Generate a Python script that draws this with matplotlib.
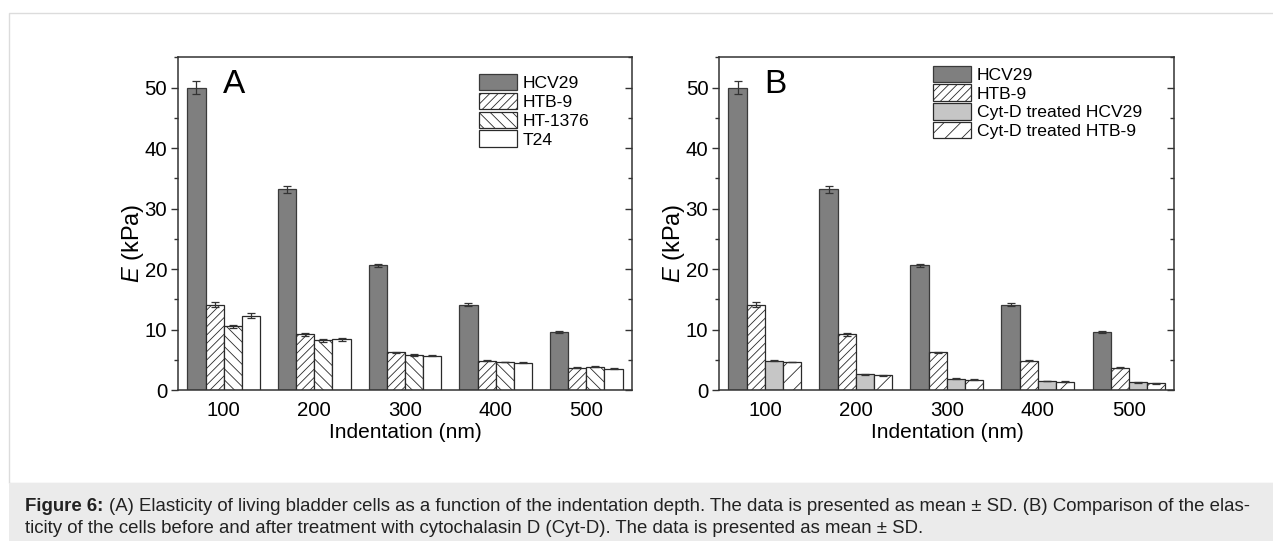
import numpy as np
import matplotlib
matplotlib.use("Agg")
import matplotlib.pyplot as plt
from matplotlib.ticker import MultipleLocator
from matplotlib.patches import Rectangle

plt.rcParams['font.family'] = ['Liberation Sans', 'DejaVu Sans']
plt.rcParams['mathtext.fontset'] = 'custom'
plt.rcParams['mathtext.it'] = 'Liberation Sans:italic'
plt.rcParams['mathtext.rm'] = 'Liberation Sans'
plt.rcParams['hatch.linewidth'] = 0.6

# ---------------- data ----------------
categories = ['100', '200', '300', '400', '500']

hcv29 = [50.0, 33.2, 20.6, 14.1, 9.6]
hcv29_sd = [1.0, 0.6, 0.3, 0.2, 0.1]
htb9 = [14.1, 9.2, 6.2, 4.8, 3.7]
htb9_sd = [0.45, 0.25, 0.1, 0.08, 0.08]
ht1376 = [10.5, 8.2, 5.8, 4.6, 3.85]
ht1376_sd = [0.3, 0.2, 0.1, 0.05, 0.05]
t24 = [12.3, 8.35, 5.7, 4.5, 3.55]
t24_sd = [0.35, 0.25, 0.12, 0.06, 0.05]
cyt_hcv29 = [4.85, 2.6, 1.9, 1.5, 1.25]
cyt_hcv29_sd = [0.1, 0.05, 0.05, 0.04, 0.04]
cyt_htb9 = [4.6, 2.4, 1.7, 1.4, 1.1]
cyt_htb9_sd = [0.05, 0.04, 0.04, 0.03, 0.03]

labels_a = ['HCV29', 'HTB-9', 'HT-1376', 'T24']
labels_b = ['HCV29', 'HTB-9', 'Cyt-D treated HCV29', 'Cyt-D treated HTB-9']

xlabel = 'Indentation (nm)'
ylabel = r'$\mathit{E}$ (kPa)'

caption_bold = 'Figure 6:'
caption_line1 = ('(A) Elasticity of living bladder cells as a function of the indentation depth. '
                 'The data is presented as mean \u00b1 SD. (B) Comparison of the elas-')
caption_line2 = ('ticity of the cells before and after treatment with cytochalasin D (Cyt-D). '
                 'The data is presented as mean \u00b1 SD.')

# ---------------- figure ----------------
W, H = 1273, 541
fig = plt.figure(figsize=(W / 100, H / 100), dpi=100)

# outer light border and caption box
fig.patches.append(Rectangle((9 / W, (541 - 483) / H), 1.2, (483 - 13) / H,
                             transform=fig.transFigure, fill=False,
                             edgecolor='#dcdcdc', lw=1.0))
fig.patches.append(Rectangle((9 / W, 0), 1.2, (541 - 483) / H,
                             transform=fig.transFigure, facecolor='#ebebeb',
                             edgecolor='none'))

ax_bottom = (541 - 390) / H
ax_h = (390 - 57.3) / H
axA = fig.add_axes([178.3 / W, ax_bottom, 453.4 / W, ax_h])
axB = fig.add_axes([719.4 / W, ax_bottom, 455 / W, ax_h])

x = np.arange(len(categories))
bw = 0.2
dark = '#7f7f7f'
light = '#c6c6c6'
edge_dark = '#3a3a3a'
spine_c = '#333333'

styles_a = [
    dict(color=dark, edgecolor=edge_dark, hatch=None),
    dict(color='white', edgecolor='#2a2a2a', hatch='////'),
    dict(color='white', edgecolor='#2a2a2a', hatch='\\\\\\'),
    dict(color='white', edgecolor='#2a2a2a', hatch=None),
]
styles_b = [
    dict(color=dark, edgecolor=edge_dark, hatch=None),
    dict(color='white', edgecolor='#2a2a2a', hatch='////'),
    dict(color=light, edgecolor='#2a2a2a', hatch=None),
    dict(color='white', edgecolor='#2a2a2a', hatch='//'),
]

def draw_panel(ax, series, sds, labels, styles, letter, leg_xy):
    n = len(series)
    offsets = (np.arange(n) - (n - 1) / 2) * bw
    handles = []
    for vals, sd, lab, st, off in zip(series, sds, labels, styles, offsets):
        b = ax.bar(x + off, vals, bw, color=st['color'], edgecolor=st['edgecolor'],
                   hatch=st['hatch'], linewidth=0.9, label=lab, zorder=2)
        handles.append(b)
        ax.errorbar(x + off, vals, yerr=sd, fmt='none', ecolor='#333333',
                    elinewidth=0.9, capsize=3.2, capthick=0.9, zorder=3)
    ax.set_xlim(-0.5, 4.5)
    ax.set_ylim(0, 55)
    ax.set_xticks(x)
    ax.set_xticklabels(categories)
    ax.tick_params(axis='x', length=0, pad=8, labelsize=14.7)
    ax.yaxis.set_major_locator(MultipleLocator(10))
    ax.yaxis.set_minor_locator(MultipleLocator(5))
    ax.tick_params(axis='y', which='major', direction='out', length=5, width=1,
                   color=spine_c, labelsize=14.7, pad=3, right=False)
    ax.tick_params(axis='y', which='minor', direction='out', length=3, width=1,
                   color=spine_c, right=False)
    for s in ax.spines.values():
        s.set_color(spine_c)
        s.set_linewidth(1.1)
    ax.set_xlabel(xlabel, fontsize=15, labelpad=2)
    ax.set_ylabel(ylabel, fontsize=17)
    ax.yaxis.set_label_coords(-0.072, 0.44)
    # right side inward ticks
    ax2 = ax.twinx()
    ax2.set_ylim(0, 55)
    ax2.yaxis.set_major_locator(MultipleLocator(10))
    ax2.yaxis.set_minor_locator(MultipleLocator(5))
    ax2.tick_params(axis='y', which='major', direction='in', length=5, width=1,
                    color=spine_c, labelright=False)
    ax2.tick_params(axis='y', which='minor', direction='in', length=3, width=1,
                    color=spine_c, labelright=False)
    for s in ax2.spines.values():
        s.set_visible(False)
    ax.text(0.099, 0.893, letter, transform=ax.transAxes, fontsize=24,
            va='baseline', ha='left')
    ax.legend(handles=handles, loc='upper left', bbox_to_anchor=leg_xy,
              frameon=False, fontsize=12.6, borderpad=0, borderaxespad=0,
              handlelength=2.2, handleheight=1.05, handletextpad=0.3,
              labelspacing=0.1)

draw_panel(axA, [hcv29, htb9, ht1376, t24], [hcv29_sd, htb9_sd, ht1376_sd, t24_sd],
           labels_a, styles_a, 'A', (0.663, 0.95))
draw_panel(axB, [hcv29, htb9, cyt_hcv29, cyt_htb9],
           [hcv29_sd, htb9_sd, cyt_hcv29_sd, cyt_htb9_sd],
           labels_b, styles_b, 'B', (0.469, 0.975))

# ---------------- caption ----------------
fig.canvas.draw()
renderer = fig.canvas.get_renderer()
target_w = 1253 - 25
y1 = (541 - 510.7) / H
y2 = (541 - 532.7) / H
cap_color = '#222222'

def place_caption(size):
    tb = fig.text(25 / W, y1, caption_bold, fontsize=size, weight='bold',
                  color=cap_color, va='baseline')
    bb = tb.get_window_extent(renderer)
    sp = size * 100 / 72 * 0.278
    tr = fig.text((bb.x1 + sp) / W, y1, caption_line1, fontsize=size,
                  color=cap_color, va='baseline')
    br = tr.get_window_extent(renderer)
    t3 = fig.text(25 / W, y2, caption_line2, fontsize=size, color=cap_color,
                  va='baseline')
    return [tb, tr, t3], br.x1 - 25

size = 12.0
texts, w = place_caption(size)
for t in texts:
    t.remove()
size = size * target_w / w
texts, w = place_caption(size)

fig.savefig('out.png', dpi=100)
